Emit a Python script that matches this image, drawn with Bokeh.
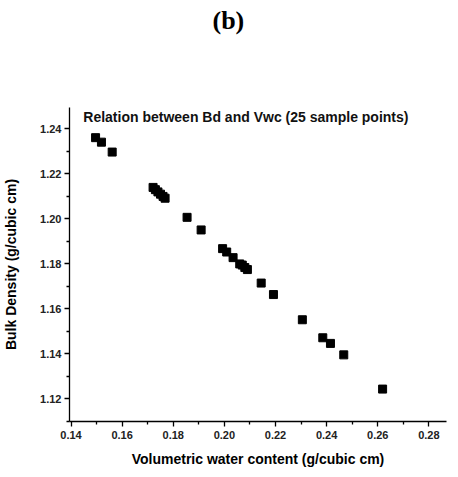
from bokeh.plotting import figure
from bokeh.models import FixedTicker, Label, Range1d, Title
from bokeh.embed import file_html
from bokeh.resources import INLINE

# Data (25 sample points)
vwc = [0.1496, 0.1519, 0.1561,
       0.1721, 0.1730, 0.1740, 0.1750, 0.1760, 0.1768,
       0.1854, 0.1909,
       0.1993, 0.2009, 0.2034, 0.2060, 0.2070, 0.2080, 0.2090,
       0.2144, 0.2192,
       0.2305, 0.2385, 0.2415, 0.2467, 0.2619]
bd = [1.2361, 1.2341, 1.2297,
      1.2140, 1.2130, 1.2120, 1.2110, 1.2100, 1.2092,
      1.2007, 1.1951,
      1.1868, 1.1853, 1.1828, 1.1800, 1.1795, 1.1784, 1.1775,
      1.1715, 1.1664,
      1.1552, 1.1472, 1.1447, 1.1396, 1.1244]

x_ticks = [0.14, 0.16, 0.18, 0.20, 0.22, 0.24, 0.26, 0.28]
x_tick_labels = ["0.14", "0.16", "0.18", "0.20", "0.22", "0.24", "0.26", "0.28"]
x_minor = [0.15, 0.17, 0.19, 0.21, 0.23, 0.25, 0.27]
y_ticks = [1.12, 1.14, 1.16, 1.18, 1.20, 1.22, 1.24]
y_tick_labels = ["1.12", "1.14", "1.16", "1.18", "1.20", "1.22", "1.24"]
y_minor = [1.11, 1.13, 1.15, 1.17, 1.19, 1.21, 1.23, 1.25]

title_text = "(b)"
inner_title = "Relation between Bd and Vwc (25 sample points)"
x_title = "Volumetric water content (g/cubic cm)"
y_title = "Bulk Density (g/cubic cm)"

p = figure(width=450, height=469, output_backend="svg", toolbar_location=None,
           x_range=Range1d(0.1394, 0.2869), y_range=Range1d(1.11, 1.2495),
           title=None, min_border_left=65, min_border_right=4,
           min_border_top=106, min_border_bottom=48)

# spacer between the frame and the "(b)" heading
p.add_layout(Title(text=" ", text_font_size="1px", standoff=63), "above")
p.add_layout(Title(text=title_text, text_font="Liberation Serif",
                   text_font_size="26px", text_font_style="bold",
                   text_color="black", align="left", vertical_align="top",
                   offset=143, standoff=10), "above")

p.outline_line_color = None
p.xgrid.visible = False
p.ygrid.visible = False

p.scatter(vwc, bd, marker="square", size=8, color="black")

p.xaxis.ticker = FixedTicker(ticks=x_ticks, minor_ticks=x_minor)
p.yaxis.ticker = FixedTicker(ticks=y_ticks, minor_ticks=y_minor)
p.xaxis.major_label_overrides = dict(zip(x_ticks, x_tick_labels))
p.yaxis.major_label_overrides = dict(zip(y_ticks, y_tick_labels))

for ax in (p.xaxis, p.yaxis):
    ax.axis_line_width = 1.3
    ax.axis_line_color = "black"
    ax.major_tick_line_color = "black"
    ax.minor_tick_line_color = "black"
    ax.major_tick_line_width = 1.3
    ax.minor_tick_line_width = 1.3
    ax.major_tick_out = 5
    ax.major_tick_in = 0
    ax.minor_tick_out = 3
    ax.minor_tick_in = 0
    ax.major_label_text_font = "Liberation Sans"
    ax.major_label_text_font_style = "bold"
    ax.major_label_text_font_size = "11px"
    ax.major_label_text_color = "#222222"
    ax.axis_label_text_font = "Liberation Sans"
    ax.axis_label_text_font_style = "bold"
    ax.axis_label_text_font_size = "14px"
    ax.axis_label_text_color = "black"

p.xaxis.axis_label = x_title
p.yaxis.axis_label = y_title
p.xaxis.major_label_standoff = 4
p.yaxis.major_label_standoff = 3
p.xaxis.axis_label_standoff = 9
p.yaxis.axis_label_standoff = 18

p.add_layout(Label(x=0.1448, y=1.2453, text=inner_title,
                   text_font="Liberation Sans", text_font_style="bold",
                   text_font_size="14px", text_baseline="middle",
                   text_color="#111111"))

open("out.html", "w").write(file_html(p, INLINE))
